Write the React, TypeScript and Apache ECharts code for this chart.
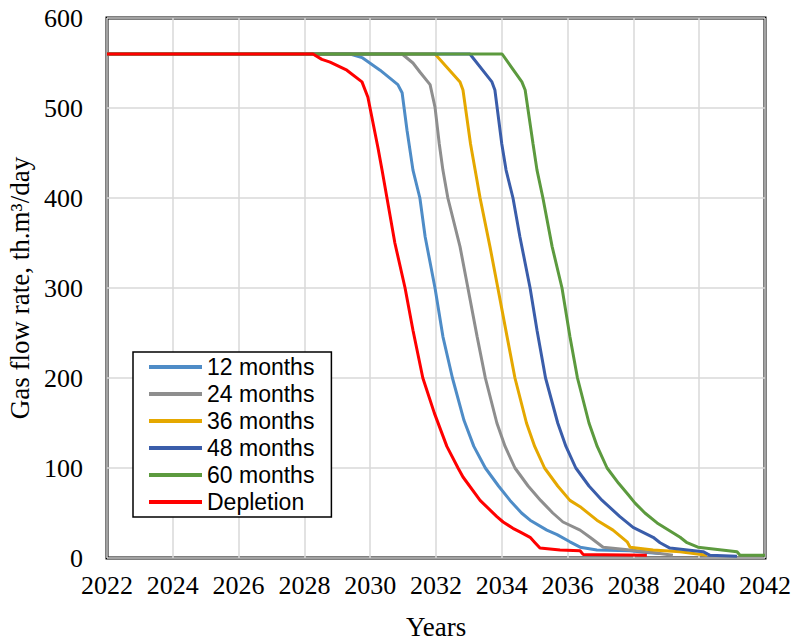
import React, { useEffect, useRef } from "react";
import * as echarts from "echarts";

// Gas flow rate (th.m³/day) against year, for each case
const months12: [number, number][] = [
  [2022, 560], [2029.39, 560], [2029.75, 556], [2030.3, 542], [2030.84, 526], [2030.97, 517],
  [2031.12, 475], [2031.3, 431], [2031.51, 400], [2031.67, 357], [2031.97, 300], [2032.21, 246],
  [2032.5, 200], [2032.85, 153], [2033.15, 124], [2033.5, 100], [2033.9, 80], [2034.25, 64],
  [2034.6, 50], [2034.86, 42], [2035.37, 31], [2035.68, 26], [2036.07, 18], [2036.38, 12],
  [2036.89, 9], [2037.9, 8], [2038.41, 6], [2038.8, 5],
];
const months24: [number, number][] = [
  [2022, 560], [2030.97, 560], [2031.3, 550], [2031.51, 540], [2031.82, 526], [2031.97, 501],
  [2032.1, 460], [2032.21, 431], [2032.36, 400], [2032.73, 346], [2032.97, 300], [2033.25, 246],
  [2033.5, 200], [2033.85, 150], [2034.1, 124], [2034.4, 100], [2034.8, 80], [2035.18, 64],
  [2035.55, 50], [2035.86, 40], [2036.38, 31], [2036.68, 23], [2037.08, 12], [2037.9, 9],
  [2038.41, 7], [2039.2, 3],
];
const months36: [number, number][] = [
  [2022, 560], [2031.97, 560], [2032.73, 529], [2032.82, 520], [2033.05, 460], [2033.19, 431],
  [2033.34, 400], [2033.64, 346], [2033.88, 300], [2034.16, 246], [2034.4, 200], [2034.75, 150],
  [2035.0, 124], [2035.3, 100], [2035.7, 80], [2036.07, 64], [2036.38, 57], [2036.89, 42],
  [2037.38, 31], [2037.81, 18], [2037.9, 12], [2038.6, 9], [2039.42, 7], [2040.24, 3],
];
const months48: [number, number][] = [
  [2022, 560], [2033.03, 560], [2033.7, 529], [2033.79, 520], [2034.0, 460], [2034.13, 431],
  [2034.34, 400], [2034.55, 357], [2034.86, 300], [2035.07, 253], [2035.33, 200], [2035.7, 150],
  [2035.95, 124], [2036.25, 100], [2036.65, 80], [2037.05, 64], [2037.59, 46], [2037.99, 34],
  [2038.6, 23], [2038.81, 17], [2039.11, 11], [2040.12, 7], [2040.33, 3], [2041.15, 2],
];
const months60: [number, number][] = [
  [2022, 560], [2034.01, 560], [2034.61, 529], [2034.71, 520], [2034.95, 460], [2035.07, 431],
  [2035.25, 400], [2035.53, 346], [2035.83, 300], [2036.07, 246], [2036.3, 200], [2036.65, 150],
  [2036.9, 124], [2037.2, 100], [2037.55, 83], [2037.85, 70], [2038.05, 61], [2038.35, 50],
  [2038.72, 39], [2039.42, 23], [2039.63, 17], [2039.96, 12], [2041.15, 7], [2041.24, 3],
  [2042, 3],
];
const depletion: [number, number][] = [
  [2022, 560], [2028.26, 560], [2028.53, 554], [2028.78, 551], [2029.29, 542], [2029.75, 529],
  [2029.93, 512], [2030.05, 490], [2030.24, 455], [2030.36, 431], [2030.51, 400], [2030.75, 350],
  [2031.06, 300], [2031.3, 253], [2031.6, 200], [2031.95, 161], [2032.33, 124], [2032.67, 100],
  [2032.82, 90], [2033.34, 64], [2033.85, 46], [2034.04, 40], [2034.34, 33], [2034.55, 29],
  [2034.86, 23], [2035.01, 17], [2035.16, 11], [2035.77, 9], [2036.38, 8], [2036.47, 4],
  [2038.41, 3],
];

const seriesNames = ["12 months", "24 months", "36 months", "48 months", "60 months", "Depletion"];
const seriesData = [months12, months24, months36, months48, months60, depletion];
const seriesColors = ["#4E8CC7", "#8E8E8E", "#E5A800", "#3A5DAA", "#5C9A3E", "#FF0000"];

const yearTicks = [2022, 2024, 2026, 2028, 2030, 2032, 2034, 2036, 2038, 2040, 2042];
const rateTicks = [0, 100, 200, 300, 400, 500, 600];

const serif = "'Liberation Serif', 'Times New Roman', serif";
const sans = "'Liberation Sans', Arial, sans-serif";

export default function App() {
  const ref = useRef<HTMLDivElement>(null);

  useEffect(() => {
    if (!ref.current) return;
    const chart = echarts.init(ref.current, undefined, { renderer: "svg" });
    chart.setOption({
      animation: false,
      grid: {
        left: 107,
        right: 29,
        top: 18,
        bottom: 82,
        show: true,
        borderColor: "#000",
        borderWidth: 3,
        containLabel: false,
        outerBoundsMode: "none",
      },
      legend: {
        orient: "vertical",
        left: 133,
        top: 352,
        data: seriesNames,
        icon: "rect",
        itemWidth: 53,
        itemHeight: 4,
        itemGap: 1,
        padding: [2, 17, 2, 16],
        borderColor: "#000",
        borderWidth: 1.5,
        backgroundColor: "#fff",
        textStyle: { fontFamily: sans, fontSize: 23, color: "#000", lineHeight: 26 },
      },
      xAxis: {
        type: "value",
        min: yearTicks[0],
        max: yearTicks[yearTicks.length - 1],
        interval: yearTicks[1] - yearTicks[0],
        name: "Years",
        nameLocation: "middle",
        nameGap: 55,
        nameTextStyle: { fontFamily: serif, fontSize: 27, color: "#000" },
        axisLine: { show: false },
        axisTick: { show: false },
        axisLabel: {
          margin: 14,
          fontFamily: serif,
          fontSize: 26,
          color: "#000",
          formatter: (v: number) => String(v),
        },
        splitLine: { show: true, lineStyle: { color: "#D9D9D9", width: 1.5 } },
      },
      yAxis: {
        type: "value",
        min: rateTicks[0],
        max: rateTicks[rateTicks.length - 1],
        interval: rateTicks[1] - rateTicks[0],
        name: "Gas flow rate, th.m³/day",
        nameLocation: "middle",
        nameGap: 66,
        nameTextStyle: { fontFamily: serif, fontSize: 27, color: "#000" },
        axisLine: { show: false },
        axisTick: { show: false },
        axisLabel: { margin: 24, fontFamily: serif, fontSize: 26, color: "#000" },
        splitLine: { show: true, lineStyle: { color: "#D9D9D9", width: 1.5 } },
      },
      series: seriesNames.map((name, i) => ({
        name,
        type: "line",
        data: seriesData[i],
        showSymbol: false,
        symbol: "none",
        z: 2 + i,
        color: seriesColors[i],
        lineStyle: { color: seriesColors[i], width: 3 },
      })),
    });
    return () => chart.dispose();
  }, []);

  return <div ref={ref} style={{ width: 794, height: 640, position: "absolute", left: 0, top: 0 }} />;
}
